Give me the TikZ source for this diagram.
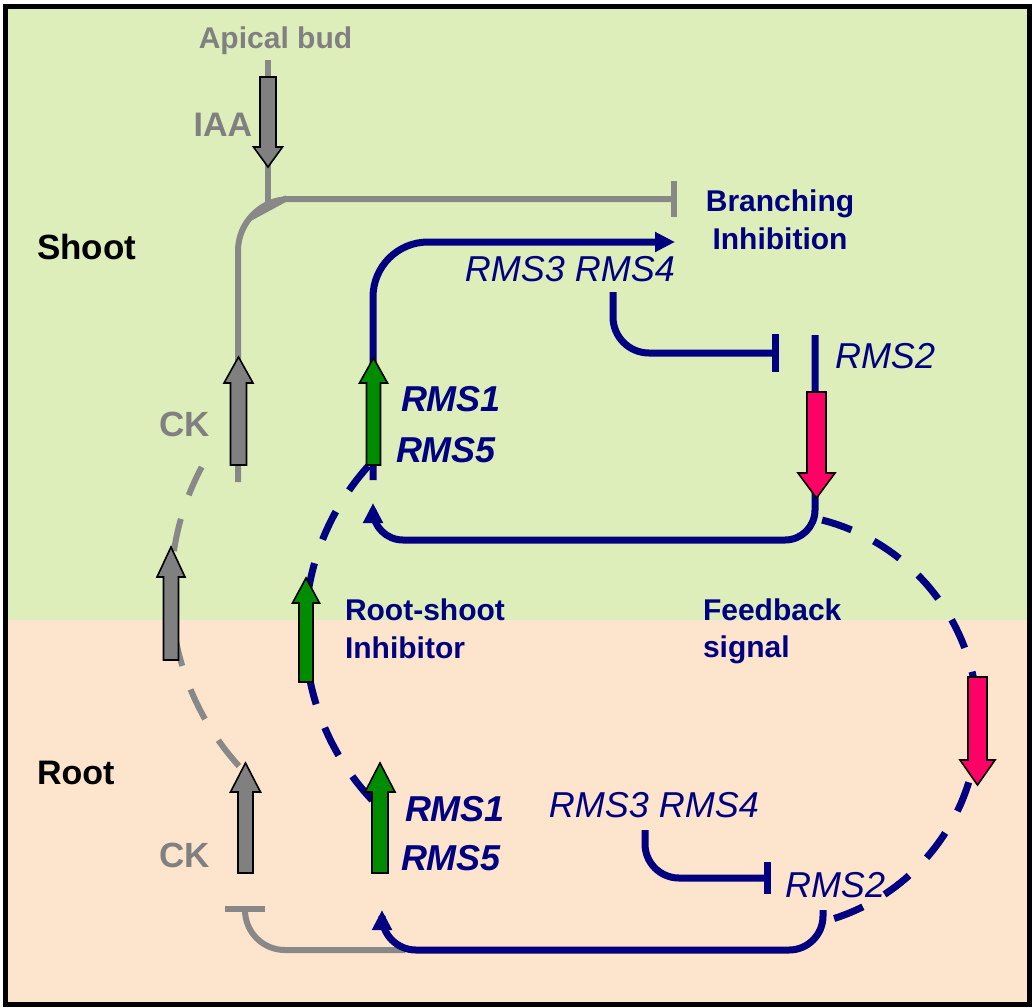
\documentclass[tikz,border=0pt]{standalone}
\usepackage{fontspec}
\setmainfont{Liberation Sans}
\usetikzlibrary{arrows.meta}
\definecolor{navy}{RGB}{0,0,128}
\definecolor{lgray}{RGB}{136,136,136}
\definecolor{tgray}{RGB}{128,128,128}
\definecolor{agreen}{RGB}{0,140,0}
\definecolor{apink}{RGB}{255,0,102}
\definecolor{bggreen}{RGB}{222,238,186}
\definecolor{bgpeach}{RGB}{253,228,204}
\newcommand{\myblockarrow}[7]{% fill, x, tail y, head-base y, tip y, shaft half width, head half width
  \filldraw[fill=#1, draw=black, line width=1.6pt, line join=miter]
    ({#2-#6},#3) -- ({#2-#6},#4) -- ({#2-#7},#4) -- (#2,#5) -- ({#2+#7},#4)
    -- ({#2+#6},#4) -- ({#2+#6},#3) -- cycle;}
\begin{document}
\begin{tikzpicture}[x=1pt,y=-1pt,
  navyline/.style={draw=navy, line width=7pt},
  navydash/.style={draw=navy, line width=7pt, dash pattern=on 31pt off 25pt},
  grayline/.style={draw=lgray, line width=6pt},
  graydash/.style={draw=lgray, line width=6pt, dash pattern=on 33pt off 25pt},
  tip/.style={-{Triangle[length=20pt,width=19pt]}},
  lbl/.style={inner sep=0pt, outer sep=0pt},
  boldlbl/.style={lbl, font=\bfseries\fontsize{30}{36}\selectfont},
  graylbl/.style={lbl, text=tgray, font=\bfseries\fontsize{#1}{40}\selectfont},
  bluelbl/.style={lbl, text=navy, font=\bfseries\fontsize{30}{36}\selectfont},
  rmslbl/.style={lbl, text=navy, font=\itshape\fontsize{36}{40}\selectfont},
  rmsbold/.style={lbl, text=navy, font=\bfseries\itshape\fontsize{36}{40}\selectfont}
]
\useasboundingbox (0,0) rectangle (1032,1007);
% background
\fill[bggreen] (6,7) rectangle (1029,620);
\fill[bgpeach] (6,620) rectangle (1029,1004);
\draw[black, line width=5pt] (5,6) rectangle (1029,1004);

% ---------- gray (CK / IAA) pathway ----------
\coordinate (iaaTop) at (268,60);
\coordinate (iaaEnd) at (268,208);
\draw[grayline] (iaaTop) -- (iaaEnd);
\draw[lgray, line width=6pt] (250,218) -- (287,198);
\coordinate (ckLow) at (238,482);
\coordinate (grayCorner) at (238,199);
\coordinate (grayEnd) at (677,199);
\draw[grayline, rounded corners=52pt, -{Bar[width=36pt]}] (ckLow) -- (grayCorner) -- (grayEnd);
\draw[graydash] plot[domain=137.8:208, samples=60, smooth] ({433+262*cos(\x)},{590+262*sin(\x)});
\coordinate (grayBotStart) at (405,950);
\coordinate (grayBotCorner) at (245,950);
\coordinate (grayBotEnd) at (245,912);
\draw[grayline, rounded corners=40pt, -{Bar[width=40pt]}] (grayBotStart) -- (grayBotCorner) -- (grayBotEnd);

% ---------- navy pathway ----------
% shoot: RMS1/RMS5 -> branching inhibition
\coordinate (s15Low) at (373,480);
\coordinate (s15Corner) at (373,242);
\coordinate (brTip) at (675,242);
\draw[navyline, rounded corners=55pt, tip] (s15Low) -- (s15Corner) -- (brTip);
% shoot: RMS3 RMS4 -| RMS2
\coordinate (s34Start) at (613,292);
\coordinate (s34Corner) at (613,353);
\coordinate (s34End) at (779,353);
\draw[navyline, rounded corners=36pt, -{Bar[width=38pt]}] (s34Start) -- (s34Corner) -- (s34End);
% shoot: RMS2 -> back to RMS1/RMS5
\coordinate (s2Top) at (815,335);
\coordinate (s2Corner) at (815,540);
\coordinate (s2LeftCorner) at (373,540);
\coordinate (s2Tip) at (373,503);
\draw[navyline, rounded corners=30pt, tip] (s2Top) -- (s2Corner) -- (s2LeftCorner) -- (s2Tip);
% root: RMS3 RMS4 -| RMS2
\coordinate (r34Start) at (645,830);
\coordinate (r34Corner) at (645,878);
\coordinate (r34End) at (771,878);
\draw[navyline, rounded corners=34pt, -{Bar[width=32pt]}] (r34Start) -- (r34Corner) -- (r34End);
% root: RMS2 -> RMS1/RMS5
\coordinate (r2Top) at (823,910);
\coordinate (r2Corner) at (823,950);
\coordinate (r2LeftCorner) at (382,950);
\coordinate (r2Tip) at (382,910);
\draw[navyline, rounded corners=34pt, tip] (r2Top) -- (r2Corner) -- (r2LeftCorner) -- (r2Tip);
% dashed long-distance signals
\draw[navydash] plot[domain=136.7:223.3, samples=70, smooth] ({551.6+246.6*cos(\x)},{631+246.6*sin(\x)});
\draw[navydash] plot[domain=-75.6:74.8, samples=70, smooth] ({770.5+207.5*cos(\x)},{721+207.5*sin(\x)});

% ---------- block arrows ----------
\myblockarrow{tgray}{268}{77}{147}{167}{8}{14.5}
\myblockarrow{tgray}{238.5}{465}{383}{357}{8}{14.5}
\myblockarrow{tgray}{171}{660}{577}{547}{7.5}{14}
\myblockarrow{tgray}{245.5}{873}{792}{763}{7.5}{15}
\myblockarrow{agreen}{373.5}{465}{383}{358}{7}{14}
\myblockarrow{agreen}{306}{682}{603}{578}{7}{13.5}
\myblockarrow{agreen}{380}{873}{792}{763}{8}{15}
\myblockarrow{apink}{816.5}{392}{473}{498}{9.5}{18.5}
\myblockarrow{apink}{977.5}{677}{760}{785}{9.5}{17.5}

% ---------- labels ----------
\node[graylbl=30, anchor=base] (apical) at (275.5,48.5) {Apical bud};
\node[graylbl=34, anchor=base] (iaa) at (223,136) {IAA};
\node[boldlbl, font=\bfseries\fontsize{35}{40}\selectfont, anchor=base west] (shoot) at (37,259) {Shoot};
\node[boldlbl, font=\bfseries\fontsize{34}{40}\selectfont, anchor=base west] (root) at (37,784) {Root};
\node[graylbl=35, anchor=base] (ckS) at (185,436) {CK};
\node[graylbl=35, anchor=base] (ckR) at (185,867) {CK};
\node[bluelbl, anchor=base] (branchA) at (780,211.5) {Branching};
\node[bluelbl, anchor=base] (branchB) at (780,249.5) {Inhibition};
\node[rmslbl, anchor=base] (rms34S) at (570,281) {RMS3 RMS4};
\node[rmsbold, anchor=base west] (rms1S) at (401,411) {RMS1};
\node[rmsbold, anchor=base west] (rms5S) at (396,462) {RMS5};
\node[rmslbl, anchor=base west] (rms2S) at (835,368) {RMS2};
\node[bluelbl, anchor=base west] (rsA) at (345,620) {Root-shoot};
\node[bluelbl, anchor=base west] (rsB) at (345,658) {Inhibitor};
\node[bluelbl, anchor=base west] (fbA) at (703,620) {Feedback};
\node[bluelbl, anchor=base west] (fbB) at (703,657) {signal};
\node[rmsbold, anchor=base west] (rms1R) at (405,821) {RMS1};
\node[rmsbold, anchor=base west] (rms5R) at (401,870) {RMS5};
\node[rmslbl, anchor=base] (rms34R) at (654,817) {RMS3 RMS4};
\node[rmslbl, anchor=base west] (rms2R) at (785,897) {RMS2};
\end{tikzpicture}
\end{document}
